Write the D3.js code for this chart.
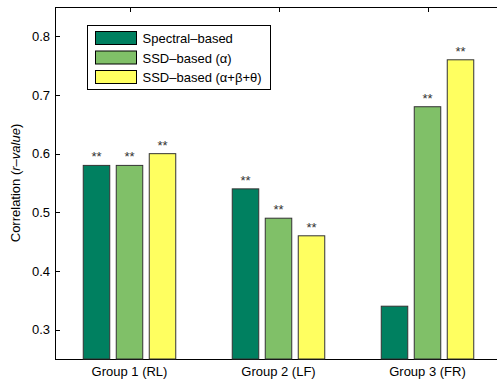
<!DOCTYPE html>
<html lang="en">
  <head>
    <meta charset="UTF-8" />
    <title>Correlation by group</title>
    <style type="text/css">
      body {
        margin: 0;
        background: #ffffff;
        font-family: "Liberation Sans", Arial, Helvetica, sans-serif;
      }
      svg {
        display: block;
      }
      .bar {
        stroke: #333333;
        stroke-width: 1px;
      }
      .tick-label {
        font-size: 13px;
        fill: #000000;
      }
    </style>
  </head>
  <body>
    <script src="https://d3js.org/d3.v7.min.js"></script>
    <script>
      var groups = ["Group 1 (RL)", "Group 2 (LF)", "Group 3 (FR)"];
      var series = ["Spectral\u2013based", "SSD\u2013based (\u03b1)", "SSD\u2013based (\u03b1+\u03b2+\u03b8)"];
      var spectral = [0.58, 0.54, 0.34];
      var ssdAlpha = [0.58, 0.49, 0.68];
      var ssdAll = [0.6, 0.46, 0.76];
      var stars = [
        ["**", "**", "**"],
        ["**", "**", "**"],
        ["", "**", "**"],
      ];
      var yTicks = [0.3, 0.4, 0.5, 0.6, 0.7, 0.8];

      var width = 497;
      var height = 385;
      var plotLeft = 55,
        plotRight = 502,
        plotTop = 7,
        plotBottom = 359;

      var svg = d3
        .select("body")
        .append("svg")
        .attr("width", width)
        .attr("height", height);

      var x = d3.scaleLinear().domain([0.5, 3.5]).range([plotLeft, plotRight]);
      var y = d3.scaleLinear().domain([0.25, 0.85]).range([plotBottom, plotTop]);
      var color = d3
        .scaleOrdinal()
        .domain(series)
        .range(["#008060", "#80c068", "#ffff60"]);

      var barWidth = 26.5;
      var barStep = 33;
      var values = [spectral, ssdAlpha, ssdAll];

      var data = [];
      groups.forEach((g, gi) => {
        series.forEach((s, si) => {
          data.push({ gi: gi, si: si, value: values[si][gi], star: stars[gi][si] });
        });
      });

      function barX(d) {
        return x(d.gi + 1) + (d.si - 1) * barStep - barWidth / 2;
      }

      // frame
      svg
        .append("rect")
        .attr("x", plotLeft + 0.5)
        .attr("y", plotTop + 0.5)
        .attr("width", plotRight - plotLeft)
        .attr("height", plotBottom - plotTop)
        .attr("fill", "#ffffff")
        .attr("stroke", "#000000")
        .attr("stroke-width", 1);

      svg
        .append("g")
        .selectAll(".bar")
        .data(data)
        .join("rect")
        .attr("class", "bar")
        .attr("x", barX)
        .attr("y", (d) => y(d.value))
        .attr("width", barWidth)
        .attr("height", (d) => plotBottom - y(d.value))
        .attr("fill", (d) => color(series[d.si]));

      svg
        .append("g")
        .selectAll(".star")
        .data(data.filter((d) => d.star))
        .join("text")
        .attr("class", "star")
        .attr("x", (d) => barX(d) + barWidth / 2)
        .attr("y", (d) => y(d.value) - 4)
        .attr("text-anchor", "middle")
        .attr("font-size", "13px")
        .attr("fill", "#333333")
        .text((d) => d.star);

      // ticks (inward)
      var yt = svg.append("g").attr("stroke", "#000000").attr("stroke-width", 1);
      yTicks.forEach((t) => {
        yt.append("line")
          .attr("x1", plotLeft)
          .attr("x2", plotLeft + 5)
          .attr("y1", Math.round(y(t)) + 0.5)
          .attr("y2", Math.round(y(t)) + 0.5);
        yt.append("line")
          .attr("x1", plotRight)
          .attr("x2", plotRight - 5)
          .attr("y1", Math.round(y(t)) + 0.5)
          .attr("y2", Math.round(y(t)) + 0.5)
          .attr("stroke", "#999999");
      });
      groups.forEach((g, i) => {
        yt.append("line")
          .attr("x1", Math.round(x(i + 1)) + 0.5)
          .attr("x2", Math.round(x(i + 1)) + 0.5)
          .attr("y1", plotTop)
          .attr("y2", plotTop + 5);
      });

      svg
        .append("g")
        .selectAll(".ylab")
        .data(yTicks)
        .join("text")
        .attr("class", "tick-label")
        .attr("x", plotLeft - 5)
        .attr("y", (d) => y(d) + 4.5)
        .attr("text-anchor", "end")
        .text((d) => d.toFixed(1));

      svg
        .append("g")
        .selectAll(".xlab")
        .data(groups)
        .join("text")
        .attr("class", "tick-label")
        .attr("x", (d, i) => x(i + 1))
        .attr("y", plotBottom + 17)
        .attr("text-anchor", "middle")
        .text((d) => d);

      var ylabel = svg
        .append("text")
        .attr("class", "tick-label")
        .attr("transform", `translate(20,${(plotTop + plotBottom) / 2}) rotate(-90)`)
        .attr("text-anchor", "middle");
      ylabel.append("tspan").text("Correlation (");
      ylabel.append("tspan").attr("font-style", "italic").text("r\u2013value");
      ylabel.append("tspan").text(")");

      // legend
      var legend = svg.append("g").attr("transform", "translate(87.5,25.5)");
      legend
        .append("rect")
        .attr("width", 183)
        .attr("height", 64)
        .attr("fill", "#ffffff")
        .attr("stroke", "#000000");

      var item = legend
        .selectAll(".legend-item")
        .data(series)
        .join("g")
        .attr("class", "legend-item")
        .attr("transform", (d, i) => `translate(8,${6 + i * 19.5})`);

      item
        .append("rect")
        .attr("width", 41)
        .attr("height", 13)
        .attr("fill", (d) => color(d))
        .attr("stroke", "#000000");

      item
        .append("text")
        .attr("class", "tick-label")
        .attr("x", 47)
        .attr("y", 11.5)
        .text((d) => d);
    </script>
  </body>
</html>
